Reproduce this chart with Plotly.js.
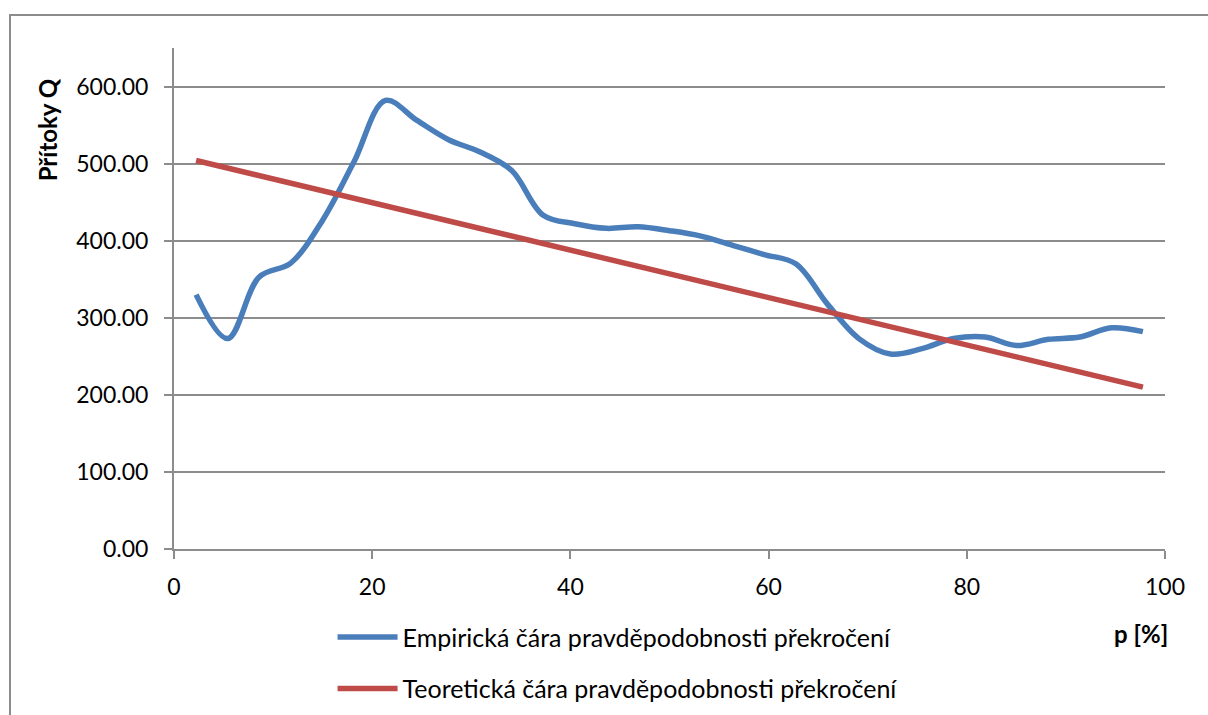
<!DOCTYPE html>
<html>
<head>
<meta charset="utf-8">
<script src="https://cdn.plot.ly/plotly-3.0.1.min.js"></script>
<style>
html, body { margin: 0; padding: 0; background: #ffffff; overflow: hidden; }
#wrap { position: relative; width: 1208px; height: 715px; }
#chart { position: absolute; left: 0; top: 0; width: 1208px; height: 715px; }
#frame { position: absolute; left: 9px; top: 14px; width: 1300px; height: 800px; border: 2px solid #8c8c8c; pointer-events: none; }
</style>
</head>
<body>
<div id="wrap">
<div id="chart"></div>
<div id="frame"></div>
</div>
<script>
// Probability of exceedance p [%]
const pValues = [2.23, 5.41, 8.60, 11.78, 14.97, 18.15, 21.34, 24.52, 27.71, 30.89, 34.08,
                 37.26, 40.45, 43.63, 46.82, 50.00, 53.18, 56.37, 59.55, 62.74, 65.92,
                 69.11, 72.29, 75.48, 78.66, 81.85, 85.03, 88.22, 91.40, 94.59, 97.77];
// Empirical inflows Q
const qEmpirical = [330, 273, 353, 371, 426, 502, 582, 556, 531, 515, 491,
                    433, 422, 416, 418, 413, 406, 394, 382, 370, 318,
                    273, 253, 260, 273, 275, 264, 272, 275, 287, 282];
// Theoretical line (read points)
const pTheory = [2.23, 50.00, 97.77];
const qTheory = [504, 357, 210];

const seriesNames = ['Empirická čára pravděpodobnosti překročení',
                     'Teoretická čára pravděpodobnosti překročení'];
const xTicks = [0, 20, 40, 60, 80, 100];
const yTicks = [0, 100, 200, 300, 400, 500, 600];

const FONT = 'Lato, "Noto Sans", sans-serif';
const GRID = '#8c8c8c';

const traces = [
  { x: pValues, y: qEmpirical, name: seriesNames[0], legendgroup: 'emp', type: 'scatter', mode: 'lines',
    line: { color: '#4a7ebb', width: 5.5, shape: 'spline', smoothing: 1 } },
  { x: pTheory, y: qTheory, name: seriesNames[1], legendgroup: 'teo', type: 'scatter', mode: 'lines',
    line: { color: '#be4b48', width: 5.5 } }
];

const layout = {
  width: 1208, height: 715,
  margin: { l: 174, r: 43, t: 48, b: 166, pad: 0, autoexpand: false },
  paper_bgcolor: '#ffffff', plot_bgcolor: '#ffffff',
  font: { family: FONT, size: 23, color: '#000000' },
  showlegend: true,
  legend: {
    x: 0.16, y: -0.13, xanchor: 'left', yanchor: 'top',
    orientation: 'v', tracegroupgap: 16, itemwidth: 60,
    font: { family: FONT, size: 25, color: '#000000' },
    bgcolor: 'rgba(0,0,0,0)'
  },
  xaxis: {
    range: [0, 100], tickvals: xTicks, ticktext: xTicks.map(String),
    showgrid: false, zeroline: false,
    showline: true, linecolor: GRID, linewidth: 2,
    ticks: 'outside', ticklen: 8, tickwidth: 2, tickcolor: GRID,
    ticklabelstandoff: 8, automargin: false,
    tickfont: { family: FONT, size: 23, color: '#000000' }
  },
  yaxis: {
    range: [0, 650], tickvals: yTicks, ticktext: yTicks.map(v => v.toFixed(2)),
    showgrid: true, gridcolor: GRID, gridwidth: 2,
    zeroline: false,
    showline: true, linecolor: GRID, linewidth: 2,
    ticks: 'outside', ticklen: 8, tickwidth: 2, tickcolor: GRID,
    ticklabelstandoff: 11, automargin: false,
    tickfont: { family: FONT, size: 23, color: '#000000' }
  },
  annotations: [
    { text: '<b>Přítoky Q</b>', xref: 'paper', yref: 'paper', x: -0.128, y: 0.836,
      xanchor: 'center', yanchor: 'middle', textangle: -90, showarrow: false,
      font: { family: FONT, size: 24, color: '#000000' } },
    { text: '<b>p [%]</b>', xref: 'paper', yref: 'paper', x: 0.976, y: -0.168,
      xanchor: 'center', yanchor: 'middle', showarrow: false,
      font: { family: FONT, size: 24, color: '#000000' } }
  ]
};

Plotly.newPlot('chart', traces, layout, { displayModeBar: false, staticPlot: true });
</script>
</body>
</html>
